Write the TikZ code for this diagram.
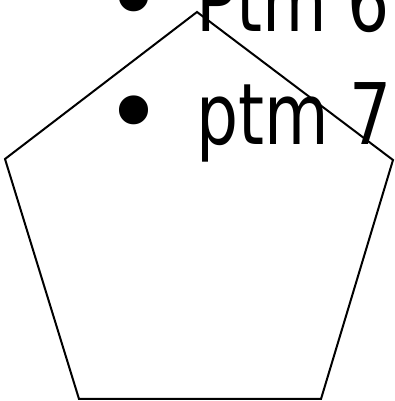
\documentclass[tikz,border=0pt]{standalone}
\usepackage{fontspec}
\newfontfamily\itemfont[FakeStretch=0.78]{DejaVu Sans}
\newfontfamily\dotfont{DejaVu Sans}
\usetikzlibrary{positioning}

\begin{document}
\begin{tikzpicture}[x=1pt,y=1pt,
  edge/.style={draw=black,line width=2pt,line join=miter},
  itemtext/.style={font=\itemfont\fontsize{85}{100}\selectfont,inner sep=0pt,anchor=base west},
  itemdot/.style={font=\dotfont\fontsize{100}{110}\selectfont,inner sep=0pt}]
  \useasboundingbox (0,0) rectangle (394,401);
  % pentagon corners
  \coordinate (top) at (197,389);
  \coordinate (left) at (5,242);
  \coordinate (right) at (393,241);
  \coordinate (botl) at (79,2);
  \coordinate (botr) at (321,2);
  \draw[edge] (top) -- (right) -- (botr) -- (botl) -- (left) -- cycle;
  % list items
  \node[itemtext] (ptmsix) at (196,369) {Ptm 6};
  \node[itemtext] (ptmseven) at (196,256) {ptm 7};
  \node[itemdot] (dotsix) at (134,392) {•};
  \node[itemdot] (dotseven) at (134,279) {•};
\end{tikzpicture}
\end{document}
